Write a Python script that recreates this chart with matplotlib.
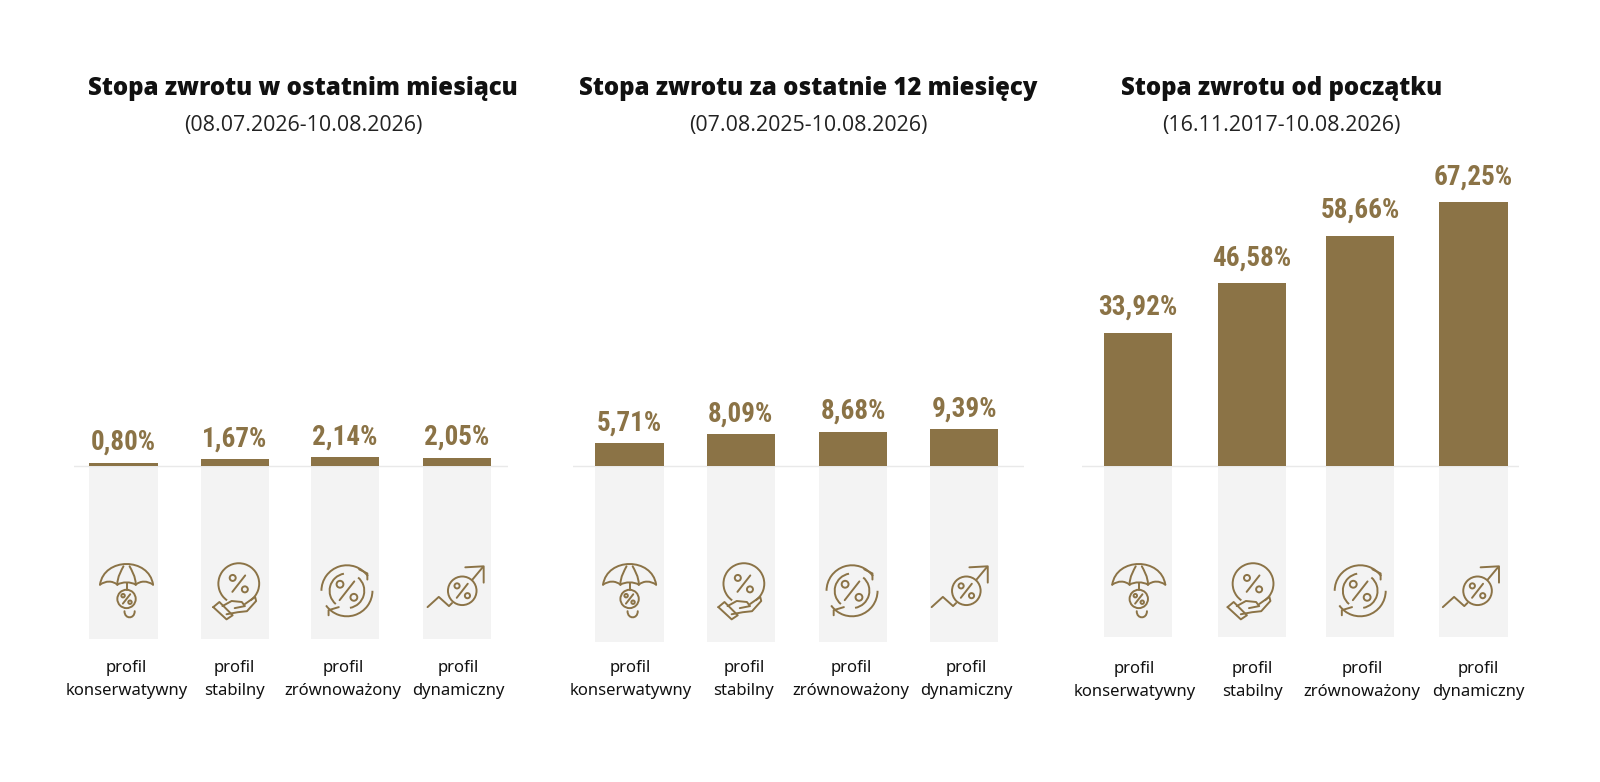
import numpy as np
import matplotlib
matplotlib.use('Agg')
import matplotlib.pyplot as plt
from matplotlib import font_manager as fm
from matplotlib.patches import Circle, Arc, PathPatch
from matplotlib.path import Path

titles = ['Stopa zwrotu w ostatnim miesiącu', 'Stopa zwrotu za ostatnie 12 miesięcy', 'Stopa zwrotu od początku']
periods = ['(08.07.2026-10.08.2026)', '(07.08.2025-10.08.2026)', '(16.11.2017-10.08.2026)']
profiles = ['profil\nkonserwatywny', 'profil\nstabilny', 'profil\nzrównoważony', 'profil\ndynamiczny']
month_vals = [0.80, 1.67, 2.14, 2.05]
year_vals = [5.71, 8.09, 8.68, 9.39]
total_vals = [33.92, 46.58, 58.66, 67.25]
all_vals = [month_vals, year_vals, total_vals]

# layout units: 1568 wide, figure saved at 1600
W, H = 1568, 766.4
GOLD = '#8b7346'
GREY = '#f3f3f3'
LW = 1.4
PX_PER_UNIT = 3.84
BASE_Y = 456.5

centres = [[121, 230, 338, 448], [617, 726, 836, 945], [1115, 1227, 1333, 1444]]
line_span = [(73, 498), (562, 1004), (1060, 1489)]
grey_bottom = [626, 629, 624]
title_x = [297, 792, 1256]
label_dx = [[3, 0, -2, 1], [1, 3, -2, 2], [-3, 0, 2, 5]]
icon_x = [[124, 234, 340, 453], [617, 729, 835, 947], [1116, 1228, 1333, 1448]]
icon_y = [573, 572, 579, 579]
value_gap = [20, 20, 25]

names = {f.name for f in fm.fontManager.ttflist}
if 'Roboto Condensed' in names:
    value_font, value_size = 'Roboto Condensed', 19.5
else:
    value_font, value_size = 'Roboto', 17

fig = plt.figure(figsize=(16, 7.82), dpi=100, facecolor='white')

over = fig.add_axes([0, 0, 1, 1], zorder=5)
over.set_xlim(0, W)
over.set_ylim(H, 0)
over.axis('off')


def line(pts, ox, oy):
    pts = np.array(pts, dtype=float)
    over.plot(pts[:, 0] + ox, pts[:, 1] + oy, color=GOLD, lw=LW, solid_capstyle='round', solid_joinstyle='round')


def curve(pts, ox, oy):
    pts = np.array(pts, dtype=float) + [ox, oy]
    codes = [Path.MOVETO] + [Path.CURVE4] * (len(pts) - 1)
    over.add_patch(PathPatch(Path(pts, codes), fc='none', ec=GOLD, lw=LW, capstyle='round'))


def ring(cx, cy, r):
    over.add_patch(Circle((cx, cy), r, fc='none', ec=GOLD, lw=LW))


def arc(cx, cy, r, t1, t2):
    over.add_patch(Arc((cx, cy), 2 * r, 2 * r, theta1=t1, theta2=t2, ec=GOLD, lw=LW))


def percent(cx, cy, s):
    line([(-s * 0.9, s * 1.15), (s * 0.9, -s * 1.15)], cx, cy)
    ring(cx - s * 0.85, cy - s * 0.8, s * 0.42)
    ring(cx + s * 0.85, cy + s * 0.8, s * 0.42)


def umbrella(x, y):
    curve([(-26, 0), (-22, -27), (22, -27), (26, 0)], x, y)
    curve([(-26, 0), (-20, -4), (-14, -4), (-9, 0)], x, y)
    curve([(-9, 0), (-4, -3), (4, -3), (9, 0)], x, y)
    curve([(9, 0), (14, -4), (20, -4), (26, 0)], x, y)
    curve([(-9, 0), (-9, -8), (-5, -14), (-3, -18)], x, y)
    curve([(9, 0), (9, -8), (5, -14), (3, -18)], x, y)
    line([(0, -2), (0, 5)], x, y)
    ring(x, y + 14, 9)
    percent(x, y + 14, 4)
    curve([(-5, 26), (-5, 34), (5, 34), (5, 26)], x + 3, y)


def hand(x, y):
    arc(x, y, 20, 125, 415)
    percent(x, y, 7)
    line([(-16, 22), (-7, 17), (3, 18), (6, 22), (-4, 24)], x, y)
    line([(6, 20), (16, 13), (17, 17), (8, 27), (-1, 28), (-12, 30)], x, y)
    line([(-25, 23), (-19, 18), (-6, 31), (-12, 35), (-25, 23)], x, y)


def cycle(x, y):
    arc(x, y, 25, 180, 325)
    arc(x, y, 25, 0, 145)
    arc(x, y, 17, 130, 260)
    arc(x, y, 17, 310, 440)
    percent(x, y, 8)
    line([(12, -21), (20, -17), (20, -11)], x, y)
    line([(-8, 16), (-18, 19), (-18, 24)], x, y)


def growth(x, y):
    ring(x, y, 14)
    percent(x, y, 6)
    line([(-34, 16), (-23, 6), (-13, 15), (-10, 12)], x, y)
    line([(10, -11), (20, -23)], x, y)
    line([(3, -23), (21, -24), (21, -8)], x, y)


icon_funcs = [umbrella, hand, cycle, growth]

for p, vals in enumerate(all_vals):
    x0, x1 = line_span[p]
    ax = fig.add_axes([x0 / W, 1 - grey_bottom[p] / H, (x1 - x0) / W, grey_bottom[p] / H])
    ax.set_xlim(x0, x1)
    ax.set_ylim(-(grey_bottom[p] - BASE_Y) / PX_PER_UNIT, BASE_Y / PX_PER_UNIT)
    ax.axis('off')
    ax.bar(centres[p], vals, width=67, color=GOLD, zorder=3)
    ax.bar(centres[p], [ax.get_ylim()[0]] * 4, width=67, color=GREY, zorder=1)
    ax.axhline(0, color='#e9e9e9', lw=1, zorder=2)
    for c, v in zip(centres[p], vals):
        ax.annotate(f'{v:.2f}%'.replace('.', ','), (c, v), xytext=(0, value_gap[p] * 0.73), textcoords='offset points',
                    ha='center', va='center', color=GOLD, fontsize=value_size, fontweight='bold', family=value_font)

    over.text(title_x[p], 87, titles[p], ha='center', va='center', fontsize=17.3, fontweight='heavy',
              family='Open Sans', color='#111111')
    over.text(title_x[p], 123, periods[p], ha='center', va='center', fontsize=15.4,
              family='Open Sans', color='#222222')

    for i in range(4):
        lab_y = 655 if p < 2 else 656
        first, second = profiles[i].split('\n')
        lx = centres[p][i] + label_dx[p][i]
        over.text(lx, lab_y, first, ha='center', va='center', fontsize=12, family='Noto Sans', color='#111111')
        over.text(lx, lab_y + 22, second, ha='center', va='center', fontsize=12, family='Noto Sans', color='#111111')
        icon_funcs[i](icon_x[p][i], icon_y[i])

fig.savefig('out.png', dpi=100)
